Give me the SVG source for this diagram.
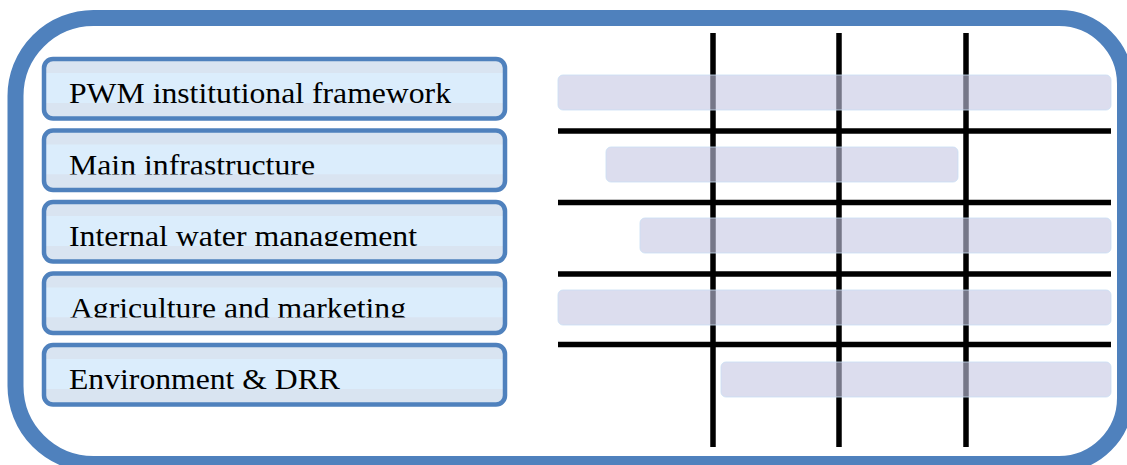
<svg xmlns="http://www.w3.org/2000/svg" width="1127" height="465" viewBox="0 0 1127 465">
  <style>
    .frame { fill: #ffffff; stroke: #4f81bd; stroke-width: 16; }
    .bx { fill: #d9e4f1; }
    .lt { fill: #dbedfc; }
    .bb { fill: #d9e4f1; }
    .bs { fill: none; stroke: #4f81bd; stroke-width: 4.5; }
    .lbl { font-family: "Liberation Serif", "Times New Roman", serif; font-size: 30px; fill: #000000; }
    .grid { stroke: #000000; stroke-width: 5.5; fill: none; }
    .bar { fill: #c4c7e2; fill-opacity: 0.6; stroke: #c9def4; stroke-width: 1; stroke-opacity: 0.8; }
  </style>

  <g id="frame">
    <path class="frame" d="M 93.5 18 H 1059 A 66 66 0 0 1 1125 84 V 398 A 66 66 0 0 1 1059 464 H 93.5 A 78 78 0 0 1 15.5 386 V 96 A 78 78 0 0 1 93.5 18 Z"/>
  </g>

  <g id="node-pwm">
    <rect class="bx" x="44" y="59" width="461" height="59.5" rx="9"/>
    <rect class="lt" x="46" y="73" width="457" height="30"/>
    <text class="lbl" x="69" y="103" textLength="382" lengthAdjust="spacingAndGlyphs">PWM institutional framework</text>
    <rect class="bb" x="46" y="103" width="457" height="13"/>
    <rect class="bs" x="44" y="59" width="461" height="59.5" rx="9"/>
  </g>

  <g id="node-infra">
    <rect class="bx" x="44" y="130.5" width="461" height="59.5" rx="9"/>
    <rect class="lt" x="46" y="144.5" width="457" height="30"/>
    <text class="lbl" x="69" y="174.5" textLength="246" lengthAdjust="spacingAndGlyphs">Main infrastructure</text>
    <rect class="bb" x="46" y="174.5" width="457" height="13"/>
    <rect class="bs" x="44" y="130.5" width="461" height="59.5" rx="9"/>
  </g>

  <g id="node-iwm">
    <rect class="bx" x="44" y="202" width="461" height="59.5" rx="9"/>
    <rect class="lt" x="46" y="216" width="457" height="30"/>
    <text class="lbl" x="69" y="246" textLength="348" lengthAdjust="spacingAndGlyphs">Internal water management</text>
    <rect class="bb" x="46" y="246" width="457" height="13"/>
    <rect class="bs" x="44" y="202" width="461" height="59.5" rx="9"/>
  </g>

  <g id="node-agri">
    <rect class="bx" x="44" y="273.5" width="461" height="59.5" rx="9"/>
    <rect class="lt" x="46" y="287.5" width="457" height="30"/>
    <text class="lbl" x="70" y="317.5" textLength="336" lengthAdjust="spacingAndGlyphs">Agriculture and marketing</text>
    <rect class="bb" x="46" y="317.5" width="457" height="13"/>
    <rect class="bs" x="44" y="273.5" width="461" height="59.5" rx="9"/>
  </g>

  <g id="node-env">
    <rect class="bx" x="44" y="345" width="461" height="59.5" rx="9"/>
    <rect class="lt" x="46" y="359" width="457" height="30"/>
    <text class="lbl" x="69" y="389" textLength="271" lengthAdjust="spacingAndGlyphs">Environment &amp; DRR</text>
    <rect class="bb" x="46" y="389" width="457" height="13"/>
    <rect class="bs" x="44" y="345" width="461" height="59.5" rx="9"/>
  </g>

  <g id="connectors">
    <line class="grid" x1="713" y1="33" x2="713" y2="447"/>
    <line class="grid" x1="839" y1="33" x2="839" y2="447"/>
    <line class="grid" x1="966" y1="33" x2="966" y2="447"/>
    <line class="grid" x1="558" y1="131" x2="1111" y2="131"/>
    <line class="grid" x1="558" y1="202.5" x2="1111" y2="202.5"/>
    <line class="grid" x1="558" y1="274" x2="1111" y2="274"/>
    <line class="grid" x1="558" y1="344.5" x2="1111" y2="344.5"/>
  </g>

  <g id="bars">
    <rect id="bar-1" class="bar" x="558" y="75" width="553" height="35" rx="5"/>
    <rect id="bar-2" class="bar" x="606" y="147" width="352" height="35" rx="5"/>
    <rect id="bar-3" class="bar" x="640" y="218" width="471" height="35" rx="5"/>
    <rect id="bar-4" class="bar" x="558" y="290" width="553" height="35" rx="5"/>
    <rect id="bar-5" class="bar" x="721" y="362" width="390" height="35" rx="5"/>
  </g>
</svg>
